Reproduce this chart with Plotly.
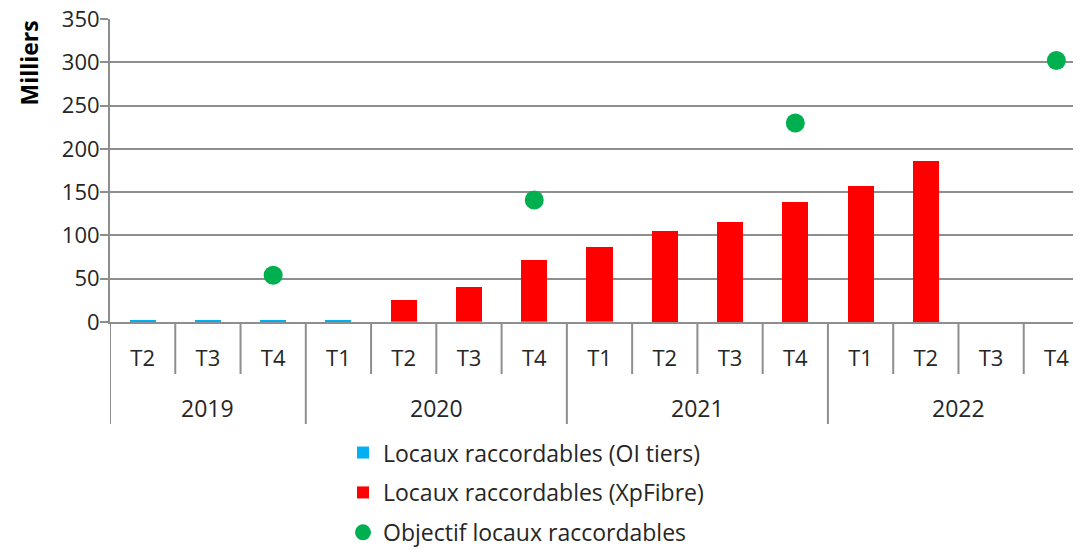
import plotly.graph_objects as go

years = ["2019", "2019", "2019", "2020", "2020", "2020", "2020",
         "2021", "2021", "2021", "2021", "2022", "2022", "2022", "2022"]
quarters = ["T2", "T3", "T4", "T1", "T2", "T3", "T4",
            "T1", "T2", "T3", "T4", "T1", "T2", "T3", "T4"]

oi_tiers = [1.5, 1.5, 1.5, 1.5, 1, 1, 1, 1, 0, 0, 0, 0, 0, None, None]
xpfibre = [0, 0, 0, 0, 24, 40, 71, 86, 105, 116, 139, 157, 186, None, None]
objectif = [None, None, 54, None, None, None, 141, None, None, None, 230, None, None, None, 302]
y_ticks = [0, 50, 100, 150, 200, 250, 300, 350]

FONT = "Open Sans, sans-serif"
GREY = "#8e8e8e"
TXT = "#262626"
# the page body adds an 8px offset, margins below account for it
PLOT_H = 303.0  # px height of plot area, to convert px offsets into paper units
PLOT_W = 979.0

idx = list(range(len(quarters)))

fig = go.Figure()
fig.add_trace(go.Bar(x=idx, y=oi_tiers, name="Locaux raccordables (OI tiers)",
                     marker_color="#00B0F0", marker_line_width=0, width=0.4,
                     legendgroup="a"))
fig.add_trace(go.Bar(x=idx, y=xpfibre, name="Locaux raccordables (XpFibre)",
                     marker_color="#FF0000", marker_line_width=0, width=0.4,
                     legendgroup="b"))
fig.add_trace(go.Scatter(x=idx, y=objectif, name="Objectif locaux raccordables",
                         mode="markers", marker=dict(color="#00B050", size=19),
                         legendgroup="c"))

# separators between quarters (short) and between years (long)
for i in idx:
    new_year = i == 0 or years[i] != years[i - 1]
    fig.add_shape(type="line", xref="x", yref="paper",
                  x0=i - 0.5, x1=i - 0.5, y0=0,
                  y1=-(102 if new_year else 52) / PLOT_H,
                  line=dict(color=GREY, width=2))

# year labels centred under their quarters
for yr in dict.fromkeys(years):
    pos = [i for i in idx if years[i] == yr]
    fig.add_annotation(x=sum(pos) / len(pos), xref="x", y=-86 / PLOT_H, yref="paper",
                       text=yr, showarrow=False, yanchor="middle",
                       font=dict(family=FONT, size=23, color=TXT))

# unit label, top-aligned like the original
fig.add_annotation(x=-82 / PLOT_W, xref="paper", y=1.0, yref="paper",
                   text="<b>Milliers</b>", textangle=-90, showarrow=False,
                   xanchor="center", yanchor="top",
                   font=dict(family=FONT, size=23, color="black"))

fig.update_layout(
    barmode="stack",
    width=1081, height=552,
    margin=dict(l=102, r=0, t=11, b=238, autoexpand=False),
    plot_bgcolor="white", paper_bgcolor="white",
    font=dict(family=FONT, size=22, color=TXT),
    showlegend=True,
    legend=dict(orientation="v", x=0.238, xanchor="left", y=-0.36, yanchor="top",
                font=dict(size=23, color=TXT), traceorder="grouped",
                tracegroupgap=7, itemwidth=30),
)
fig.update_xaxes(
    range=[-0.5, 14.5], tickvals=idx, ticktext=quarters, ticks="",
    showline=True, linecolor=GREY, linewidth=2, showgrid=False, zeroline=False,
    ticklabelstandoff=16, tickfont=dict(size=22, color=TXT), automargin=False,
)
fig.update_yaxes(
    range=[0, 350.05], tickmode="array", tickvals=y_ticks,
    showline=True, linecolor=GREY, linewidth=2,
    ticks="outside", ticklen=8, tickcolor=GREY, tickwidth=2,
    showgrid=True, gridcolor=GREY, gridwidth=2, automargin=False,
    ticklabelstandoff=-4, ticklabeloverflow="allow",
    zeroline=False, tickfont=dict(size=22, color=TXT),
)

fig.write_html("out.html")
